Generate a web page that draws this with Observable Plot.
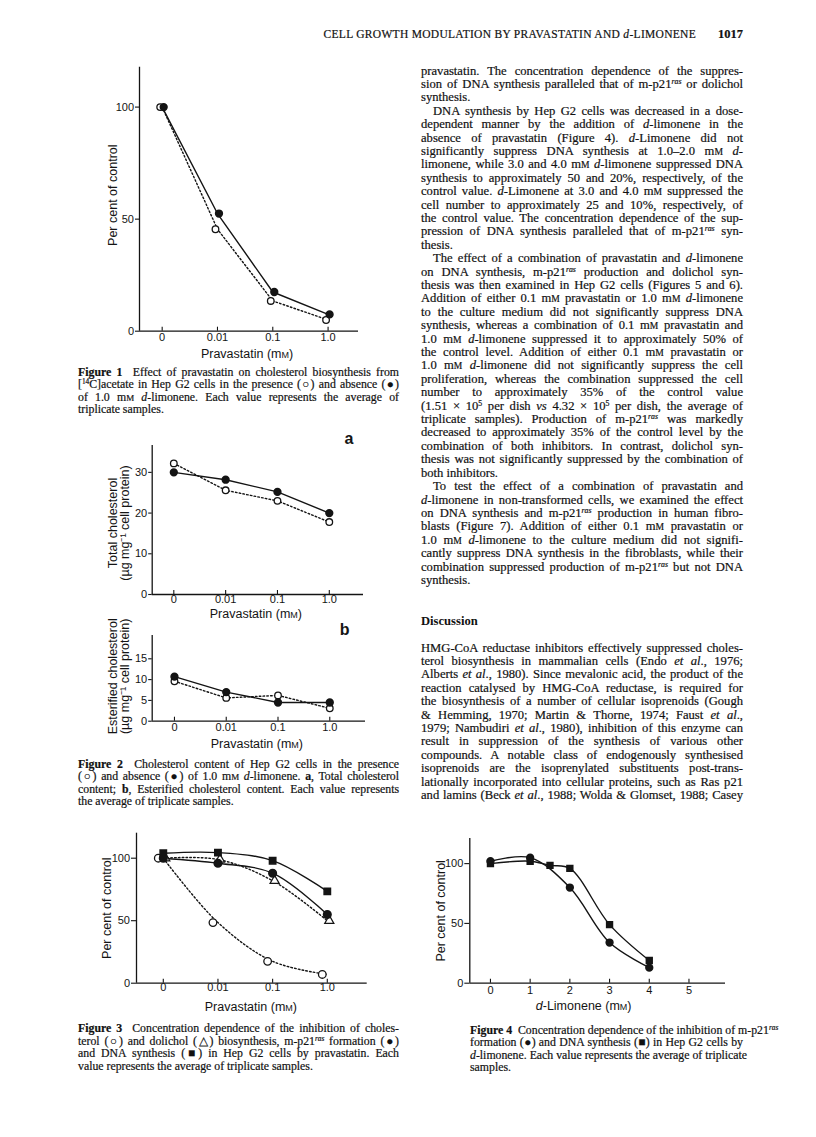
<!DOCTYPE html>
<html>
<head>
<meta charset="utf-8">
<script src="https://cdn.jsdelivr.net/npm/d3@7"></script>
<script src="https://cdn.jsdelivr.net/npm/@observablehq/plot@0.6"></script>
<style>
  html, body { margin:0; padding:0; background:#fff; }
  #page { position:relative; width:816px; height:1137px; overflow:hidden; background:#fff; color:#111;
          font-family:"Liberation Serif","Times New Roman",Times,serif; }
  .col { position:absolute; font-size:12.6px; line-height:13.42px; -webkit-text-stroke:0.2px #111; }
  .ln { white-space:nowrap; text-align:justify; text-align-last:justify; height:13.42px; }
  .ln.end { text-align-last:left; }
  .ln.ind { text-indent:12px; }
  .cap { position:absolute; font-size:11.8px; line-height:12.5px; -webkit-text-stroke:0.2px #111; }
  .cap .ln { height:12.5px; }
  sup.r { font-size:0.62em; font-style:italic; vertical-align:0.5em; line-height:0; }
  sup.n { font-size:0.62em; vertical-align:0.5em; line-height:0; }
  .sc { font-size:0.76em; }
  .head { position:absolute; font-size:11.5px; letter-spacing:0.3px; white-space:nowrap; -webkit-text-stroke:0.2px #111; }
  .disc { position:absolute; font-weight:bold; font-size:12.6px; }
  svg.fig { position:absolute; overflow:visible; }
</style>
</head>
<body>
<div id="page"></div>
<script>
// ---------------- data ----------------
const doseLabels = ["0", "0.01", "0.1", "1.0"];            // pravastatin (mM), categorical axis
const doseIndex = [0, 1, 2, 3];

// Figure 1: cholesterol biosynthesis, per cent of control
const fig1Absent  = [100, 52.5, 17.5, 7.5];   // filled circles, solid
const fig1Present = [100, 45.5, 13.5, 5];     // open circles, dotted

// Figure 2a: total cholesterol (µg per mg cell protein)
const fig2aAbsent  = [30, 28.2, 25.2, 20];
const fig2aPresent = [32.2, 25.6, 23, 17.8];

// Figure 2b: esterified cholesterol
const fig2bAbsent  = [10.7, 7, 4.5, 4.5];
const fig2bPresent = [9.6, 5.6, 6.2, 3.1];

// Figure 3: per cent of control vs pravastatin
const fig3Cholesterol = [100, 48.5, 17.5, 7];    // open circles
const fig3Dolichol    = [100, 99, 82, 50];       // open triangles
const fig3P21         = [100, 96, 88, 55];       // filled circles
const fig3DNA         = [104, 104.5, 98, 73.5];  // filled squares

// Figure 4: per cent of control vs d-limonene (mM)
const fig4P21Dose = [0, 1, 2, 3, 4];
const fig4P21     = [102, 105, 80, 34, 13];
const fig4DNADose = [0, 1, 1.5, 2, 3, 4];
const fig4DNA     = [100, 102, 98.5, 96, 49, 19];
const limTicks = [0, 1, 2, 3, 4, 5];

// ---------------- helpers ----------------
const ink = "#141414";
const page = document.getElementById("page");
const rows = (xs, ys) => ys.map((v, i) => ({x: xs[i], y: v}));

function chart(cfg) {
  const [L, T, W, H] = cfg.box;
  const [fx0, fyTop, fx1, fyBot] = cfg.frame;
  // short inward tick: 4 px expressed in y units of this frame
  const tickLen = 4 * (cfg.yDomain[1] - cfg.yDomain[0]) / (fyBot - fyTop);
  const svg = Plot.plot({
    width: W, height: H,
    marginLeft: fx0 - L, marginRight: L + W - fx1,
    marginTop: fyTop - T, marginBottom: T + H - fyBot,
    x: {domain: cfg.xDomain},
    y: {domain: cfg.yDomain},
    style: {fontFamily: "'Liberation Sans', Arial, Helvetica, sans-serif", fontSize: "11px",
            background: "transparent", color: ink, overflow: "visible"},
    marks: [
      Plot.axisX(cfg.xTicks, {tickFormat: cfg.xFormat, tickSize: 0, stroke: "none", fill: ink, tickPadding: cfg.xPad, label: null}),
      Plot.ruleX(cfg.xTicks, {x: d => d, y1: cfg.yDomain[0], y2: cfg.yDomain[0] + tickLen, stroke: ink, strokeWidth: 1.1}),
      Plot.axisY(cfg.yTicks, {tickSize: cfg.yTickSize, tickPadding: 1.5, label: null, strokeWidth: 1.1}),
      Plot.ruleY([cfg.yDomain[0]], {stroke: ink, strokeWidth: 1.3}),
      Plot.ruleX([cfg.xDomain[0]], {stroke: ink, strokeWidth: 1.3}),
      ...cfg.marks
    ]
  });
  svg.classList.add("fig");
  svg.style.left = L + "px";
  svg.style.top = T + "px";
  page.appendChild(svg);
  // small capitals and italics inside axis titles
  svg.querySelectorAll("text").forEach(t => {
    if (t.childElementCount === 0 && /\(mM\)$/.test(t.textContent)) {
      let s = t.textContent.replace("(mM)", "(m<tspan font-size='9px'>M</tspan>)");
      s = s.replace(/^d-/, "<tspan font-style='italic'>d</tspan>-");
      t.innerHTML = s;
    }
  });
  return svg;
}

const solid = {stroke: ink, strokeWidth: 1.4};
const dotted = {stroke: ink, strokeWidth: 1.4, strokeDasharray: "1.6,2.2"};
const filledDot = {r: 3.4, fill: ink, stroke: ink};
const openDot = {r: 3.3, fill: "white", stroke: ink, strokeWidth: 1.3};
const title = (txt, o) => Plot.text([txt], {text: d => d, lineAnchor: "middle", textAnchor: "middle", fontSize: 12.5, fill: ink, ...o});

// ---------------- Figure 1 ----------------
chart({
  box: [60, 45, 340, 325], frame: [139, 66.7, 358, 330.7],
  xDomain: [-0.41, 3.55], yDomain: [0, 117.8],
  xTicks: doseIndex, xFormat: i => doseLabels[i], xPad: 2,
  yTicks: [0, 50, 100], yTickSize: 4,
  marks: [
    Plot.line(rows(doseIndex, fig1Present), {x: "x", y: "y", ...dotted}),
    Plot.line(rows(doseIndex, fig1Absent), {x: "x", y: "y", ...solid}),
    Plot.dot(rows(doseIndex, fig1Present), {x: "x", y: "y", dx: -2, ...openDot}),
    Plot.dot(rows(doseIndex, fig1Absent), {x: "x", y: "y", dx: 1.5, ...filledDot}),
    title("Pravastatin (mM)", {frameAnchor: "bottom", dx: -2, dy: 22.6}),
    title("Per cent of control", {frameAnchor: "left", dx: -27, dy: -4, rotate: -90})
  ]
});

// ---------------- Figure 2a ----------------
chart({
  box: [60, 405, 340, 220], frame: [151.7, 445, 363, 594],
  xDomain: [-0.417, 3.66], yDomain: [0, 36.6],
  xTicks: doseIndex, xFormat: i => doseLabels[i], xPad: 1,
  yTicks: [0, 10, 20, 30], yTickSize: 3.5,
  marks: [
    Plot.line(rows(doseIndex, fig2aPresent), {x: "x", y: "y", ...dotted}),
    Plot.line(rows(doseIndex, fig2aAbsent), {x: "x", y: "y", ...solid}),
    Plot.dot(rows(doseIndex, fig2aPresent), {x: "x", y: "y", ...openDot}),
    Plot.dot(rows(doseIndex, fig2aAbsent), {x: "x", y: "y", ...filledDot}),
    title("Pravastatin (mM)", {frameAnchor: "bottom", dx: -2, dy: 19}),
    title("Total cholesterol\n(µg mg⁻¹ cell protein)", {frameAnchor: "left", dx: -33, dy: 3, rotate: -90, lineHeight: 0.95}),
    Plot.text(["a"], {text: d => d, frameAnchor: "top-right", dx: -10, dy: -13, fontSize: 16, fontWeight: "bold", fill: ink})
  ]
});

// ---------------- Figure 2b ----------------
chart({
  box: [60, 612, 340, 143], frame: [151.7, 635, 365, 720.7],
  xDomain: [-0.43, 3.69], yDomain: [0, 20.6],
  xTicks: doseIndex, xFormat: i => doseLabels[i], xPad: 2,
  yTicks: [0, 5, 10, 15], yTickSize: 3.5,
  marks: [
    Plot.line(rows(doseIndex, fig2bPresent), {x: "x", y: "y", ...dotted}),
    Plot.line(rows(doseIndex, fig2bAbsent), {x: "x", y: "y", ...solid}),
    Plot.dot(rows(doseIndex, fig2bPresent), {x: "x", y: "y", ...openDot}),
    Plot.dot(rows(doseIndex, fig2bAbsent), {x: "x", y: "y", ...filledDot}),
    title("Pravastatin (mM)", {frameAnchor: "bottom", dx: -2, dy: 22.3}),
    title("Esterified cholesterol\n(µg mg⁻¹ cell protein)", {frameAnchor: "left", dx: -33, dy: -2, rotate: -90, lineHeight: 0.95}),
    Plot.text(["b"], {text: d => d, frameAnchor: "top-right", dx: -16, dy: -12, fontSize: 16, fontWeight: "bold", fill: ink})
  ]
});

// ---------------- Figure 3 ----------------
chart({
  box: [60, 815, 340, 205], frame: [136, 832.7, 366.7, 982.7],
  xDomain: [-0.49, 3.73], yDomain: [0, 120],
  xTicks: doseIndex, xFormat: i => doseLabels[i], xPad: 0,
  yTicks: [0, 50, 100], yTickSize: 5,
  marks: [
    Plot.line(rows(doseIndex, fig3Cholesterol), {x: "x", y: "y", curve: "catmull-rom", ...dotted}),
    Plot.line(rows(doseIndex, fig3Dolichol), {x: "x", y: "y", curve: "catmull-rom", ...dotted}),
    Plot.line(rows(doseIndex, fig3P21), {x: "x", y: "y", curve: "catmull-rom", ...solid}),
    Plot.line(rows(doseIndex, fig3DNA), {x: "x", y: "y", curve: "catmull-rom", ...solid}),
    Plot.dot(rows(doseIndex, fig3Cholesterol), {x: "x", y: "y", dx: -5, ...openDot, r: 3.8}),
    Plot.dot(rows(doseIndex, fig3Dolichol), {x: "x", y: "y", dx: 2, symbol: "triangle", r: 3.4, fill: "white", stroke: ink, strokeWidth: 1.2}),
    Plot.dot(rows(doseIndex, fig3P21), {x: "x", y: "y", ...filledDot, r: 3.8}),
    Plot.dot(rows(doseIndex, fig3DNA), {x: "x", y: "y", symbol: "square", r: 3.6, fill: ink, stroke: ink}),
    title("Pravastatin (mM)", {frameAnchor: "bottom", dx: -1, dy: 24}),
    title("Per cent of control", {frameAnchor: "left", dx: -30, dy: 0, rotate: -90})
  ]
});

// ---------------- Figure 4 ----------------
chart({
  box: [410, 820, 330, 200], frame: [469.3, 838, 725, 982.7],
  xDomain: [-0.52, 5.92], yDomain: [0, 121],
  xTicks: limTicks, xFormat: d => String(d), xPad: 3,
  yTicks: [0, 50, 100], yTickSize: 5,
  marks: [
    Plot.line(rows(fig4P21Dose, fig4P21), {x: "x", y: "y", curve: "catmull-rom", ...solid}),
    Plot.line(rows(fig4DNADose, fig4DNA), {x: "x", y: "y", curve: "catmull-rom", ...solid}),
    Plot.dot(rows(fig4P21Dose, fig4P21), {x: "x", y: "y", ...filledDot}),
    Plot.dot(rows(fig4DNADose, fig4DNA), {x: "x", y: "y", symbol: "square", r: 3.3, fill: ink, stroke: ink}),
    title("d-Limonene (mM)", {frameAnchor: "bottom", dx: -14, dy: 22.3}),
    title("Per cent of control", {frameAnchor: "left", dx: -29.3, dy: 0, rotate: -90})
  ]
});

// ---------------- text ----------------
const R = 'm-p21<sup class="r">ras</sup>';
const MM = 'm<span class="sc">M</span>';
const D = '<i>d</i>';
const EA = '<i>et al</i>.';

const bodyLines = [
 ["pravastatin. The concentration dependence of the suppres-", ""],
 [`sion of DNA synthesis paralleled that of ${R} or dolichol`, ""],
 ["synthesis.", "end"],
 ["DNA synthesis by Hep G2 cells was decreased in a dose-", "ind"],
 [`dependent manner by the addition of ${D}-limonene in the`, ""],
 [`absence of pravastatin (Figure 4). ${D}-Limonene did not`, ""],
 [`significantly suppress DNA synthesis at 1.0–2.0 ${MM} ${D}-`, ""],
 [`limonene, while 3.0 and 4.0 ${MM} ${D}-limonene suppressed DNA`, ""],
 ["synthesis to approximately 50 and 20%, respectively, of the", ""],
 [`control value. ${D}-Limonene at 3.0 and 4.0 ${MM} suppressed the`, ""],
 ["cell number to approximately 25 and 10%, respectively, of", ""],
 ["the control value. The concentration dependence of the sup-", ""],
 [`pression of DNA synthesis paralleled that of ${R} syn-`, ""],
 ["thesis.", "end"],
 [`The effect of a combination of pravastatin and ${D}-limonene`, "ind"],
 [`on DNA synthesis, ${R} production and dolichol syn-`, ""],
 ["thesis was then examined in Hep G2 cells (Figures 5 and 6).", ""],
 [`Addition of either 0.1 ${MM} pravastatin or 1.0 ${MM} ${D}-limonene`, ""],
 ["to the culture medium did not significantly suppress DNA", ""],
 [`synthesis, whereas a combination of 0.1 ${MM} pravastatin and`, ""],
 [`1.0 ${MM} ${D}-limonene suppressed it to approximately 50% of`, ""],
 [`the control level. Addition of either 0.1 ${MM} pravastatin or`, ""],
 [`1.0 ${MM} ${D}-limonene did not significantly suppress the cell`, ""],
 ["proliferation, whereas the combination suppressed the cell", ""],
 ["number to approximately 35% of the control value", ""],
 [`(1.51 × 10<sup class="n">5</sup> per dish <i>vs</i> 4.32 × 10<sup class="n">5</sup> per dish, the average of`, ""],
 [`triplicate samples). Production of ${R} was markedly`, ""],
 ["decreased to approximately 35% of the control level by the", ""],
 ["combination of both inhibitors. In contrast, dolichol syn-", ""],
 ["thesis was not significantly suppressed by the combination of", ""],
 ["both inhibitors.", "end"],
 ["To test the effect of a combination of pravastatin and", "ind"],
 [`${D}-limonene in non-transformed cells, we examined the effect`, ""],
 [`on DNA synthesis and ${R} production in human fibro-`, ""],
 [`blasts (Figure 7). Addition of either 0.1 ${MM} pravastatin or`, ""],
 [`1.0 ${MM} ${D}-limonene to the culture medium did not signifi-`, ""],
 ["cantly suppress DNA synthesis in the fibroblasts, while their", ""],
 [`combination suppressed production of ${R} but not DNA`, ""],
 ["synthesis.", "end"]
];

const discussionLines = [
 ["HMG-CoA reductase inhibitors effectively suppressed choles-", ""],
 [`terol biosynthesis in mammalian cells (Endo ${EA}, 1976;`, ""],
 [`Alberts ${EA}, 1980). Since mevalonic acid, the product of the`, ""],
 ["reaction catalysed by HMG-CoA reductase, is required for", ""],
 ["the biosynthesis of a number of cellular isoprenoids (Gough", ""],
 [`&amp; Hemming, 1970; Martin &amp; Thorne, 1974; Faust ${EA},`, ""],
 [`1979; Nambudiri ${EA}, 1980), inhibition of this enzyme can`, ""],
 ["result in suppression of the synthesis of various other", ""],
 ["compounds. A notable class of endogenously synthesised", ""],
 ["isoprenoids are the isoprenylated substituents post-trans-", ""],
 ["lationally incorporated into cellular proteins, such as Ras p21", ""],
 [`and lamins (Beck ${EA}, 1988; Wolda &amp; Glomset, 1988; Casey`, ""]
];

const captions = [
  {left: 78, top: 365.7, width: 321, lines: [
    ["<b>Figure 1</b>&nbsp; Effect of pravastatin on cholesterol biosynthesis from", ""],
    ["[<sup class='n'>14</sup>C]acetate in Hep G2 cells in the presence (○) and absence (●)", ""],
    [`of 1.0 ${MM} ${D}-limonene. Each value represents the average of`, ""],
    ["triplicate samples.", "end"]]},
  {left: 78, top: 757.7, width: 321, lines: [
    ["<b>Figure 2</b>&nbsp; Cholesterol content of Hep G2 cells in the presence", ""],
    [`(○) and absence (●) of 1.0 ${MM} ${D}-limonene. <b>a</b>, Total cholesterol`, ""],
    ["content; <b>b</b>, Esterified cholesterol content. Each value represents", ""],
    ["the average of triplicate samples.", "end"]]},
  {left: 78, top: 1022, width: 321, lines: [
    ["<b>Figure 3</b>&nbsp; Concentration dependence of the inhibition of choles-", ""],
    [`terol (○) and dolichol (△) biosynthesis, ${R} formation (●)`, ""],
    ["and DNA synthesis (■) in Hep G2 cells by pravastatin. Each", ""],
    ["value represents the average of triplicate samples.", "end"]]},
  {left: 470, top: 1023.7, width: 273, lines: [
    [`<b>Figure 4</b>&nbsp; Concentration dependence of the inhibition of ${R}`, ""],
    ["formation (●) and DNA synthesis (■) in Hep G2 cells by", ""],
    [`${D}-limonene. Each value represents the average of triplicate`, ""],
    ["samples.", "end"]]}
];

function block(lines, cls, left, top, width) {
  const div = document.createElement("div");
  div.className = cls;
  div.style.left = left + "px";
  div.style.top = top + "px";
  div.style.width = width + "px";
  div.innerHTML = lines.map(([h, f]) => `<div class="ln ${f}">${h}</div>`).join("");
  page.appendChild(div);
}

block(bodyLines, "col", 421, 64.5, 322);
block(discussionLines, "col", 421, 641.5, 322);
captions.forEach(c => block(c.lines, "cap", c.left, c.top, c.width));

const disc = document.createElement("div");
disc.className = "disc";
disc.style.left = "421px"; disc.style.top = "614px";
disc.textContent = "Discussion";
page.appendChild(disc);

const head = document.createElement("div");
head.className = "head";
head.style.right = (816 - 743) + "px"; head.style.top = "27px";
head.innerHTML = `CELL GROWTH MODULATION BY PRAVASTATIN AND ${D}-LIMONENE<span style="display:inline-block;width:22px"></span><b style="font-size:12.5px;letter-spacing:0">1017</b>`;
page.appendChild(head);
</script>
</body>
</html>
